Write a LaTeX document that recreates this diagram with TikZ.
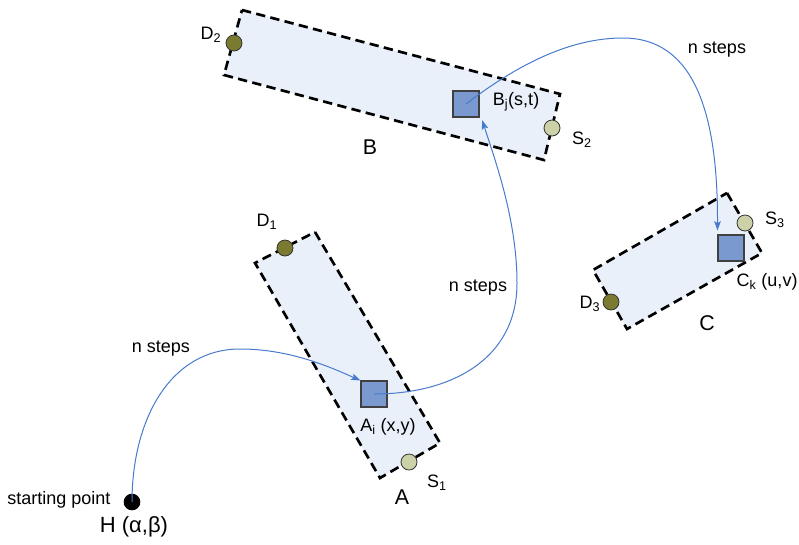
\documentclass[tikz,border=0pt]{standalone}
\usepackage{fontspec}
\setmainfont{Liberation Sans}
\usetikzlibrary{arrows.meta}
\definecolor{zonefill}{RGB}{233,240,250}
\definecolor{cellfill}{RGB}{122,153,206}
\definecolor{pathblue}{RGB}{72,122,204}
\definecolor{darkport}{RGB}{122,122,48}
\definecolor{lightport}{RGB}{204,209,168}
\begin{document}
\begin{tikzpicture}[x=0.75pt,y=-0.75pt,
  zone/.style={draw=black,fill=zonefill,line width=2pt,dash pattern=on 7pt off 4pt,line join=miter},
  cell/.style={draw=black!75,fill=cellfill,line width=0.8pt,minimum size=19.5pt,inner sep=0pt},
  dport/.style={circle,draw=black!80,fill=darkport,line width=0.6pt,minimum size=12pt,inner sep=0pt},
  sport/.style={circle,draw=black!80,fill=lightport,line width=0.6pt,minimum size=12pt,inner sep=0pt},
  startdot/.style={circle,fill=black,minimum size=12.5pt,inner sep=0pt},
  walk/.style={draw=pathblue,line width=0.75pt,-{Stealth[length=7pt,width=5pt,inset=1.5pt]}},
  lbl/.style={font=\fontsize{13.5}{16}\selectfont,inner sep=0pt},
  zonelbl/.style={font=\fontsize{16}{19}\selectfont,inner sep=0pt},
  hlbl/.style={font=\fontsize{16.5}{20}\selectfont,inner sep=0pt}]
\useasboundingbox (0,0) rectangle (799,544);

% zones
\draw[zone] (242,10) -- (560,94) -- (544,160) -- (224,75) -- cycle;
\draw[zone] (315,232) -- (440,443) -- (380,478) -- (255,263) -- cycle;
\draw[zone] (727,193) -- (762,253) -- (627,329) -- (593,270) -- cycle;

% ports
\node[dport] (D2) at (234,43) {};
\node[sport] (S2) at (552,128) {};
\node[dport] (D1) at (285,248) {};
\node[sport] (S1) at (409,462) {};
\node[sport] (S3) at (745,223) {};
\node[dport] (D3) at (611,302) {};

% cells
\node[cell] (Ai) at (374,394) {};
\node[cell] (Bj) at (466,104) {};
\node[cell] (Ck) at (731,248) {};

% start
\node[startdot] (H) at (132,502) {};

% walks
\draw[walk] (H.center) .. controls (132,420) and (170,349) .. (240,349)
  .. controls (290,349) and (330,367) .. (Ai.north west);
\draw[walk] (Ai.center) .. controls (450,394) and (517,360) .. (517,283)
  .. controls (517,220) and (495,160) .. ([xshift=2pt,yshift=-2pt]Bj.south east);
\draw[walk] (Bj.center) .. controls (530,55) and (580,38) .. (623,38)
  .. controls (695,38) and (718,115) .. ([yshift=3pt]Ck.north west);

% labels
\node[lbl] (lD2) at (211,35) {D\textsubscript{2}};
\node[lbl] (lD1) at (267,222) {D\textsubscript{1}};
\node[lbl] (lS1) at (437,483) {S\textsubscript{1}};
\node[lbl] (lS2) at (582,140) {S\textsubscript{2}};
\node[lbl] (lS3) at (775,220) {S\textsubscript{3}};
\node[lbl] (lD3) at (590,304) {D\textsubscript{3}};
\node[zonelbl] (lA) at (402,497) {A};
\node[zonelbl] (lB) at (370,147) {B};
\node[zonelbl] (lC) at (707,323) {C};
\node[lbl] (lAi) at (388,427) {A\textsubscript{i} (x,y)};
\node[lbl] (lBj) at (516,102) {B\textsubscript{j}(s,t)};
\node[lbl] (lCk) at (767,282) {C\textsubscript{k} (u,v)};
\node[lbl] (lstart) at (59,500) {starting point};
\node[hlbl] (lH) at (134,527) {H (α,β)};
\node[lbl] (n1) at (161,349) {n steps};
\node[lbl] (n2) at (478,288) {n steps};
\node[lbl] (n3) at (717,50) {n steps};
\end{tikzpicture}
\end{document}
